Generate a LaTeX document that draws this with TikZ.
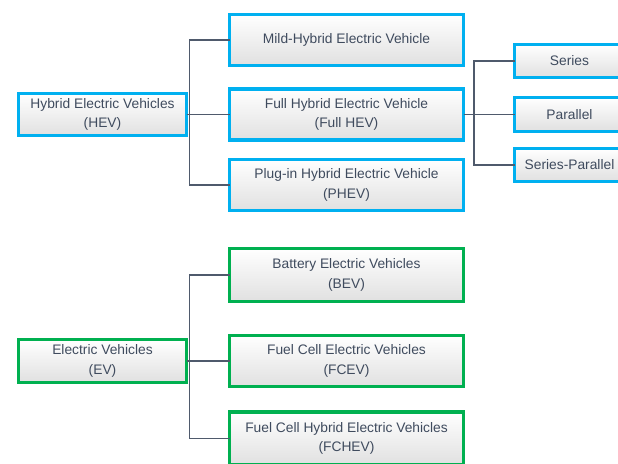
\documentclass[tikz,border=0pt]{standalone}
\usepackage{fontspec}
\setmainfont{Liberation Sans}
\usetikzlibrary{shadows}
\definecolor{hevblue}{HTML}{00B0F0}
\definecolor{evgreen}{HTML}{00B050}
\definecolor{txt}{HTML}{3F4B5E}
\definecolor{conn}{HTML}{4F5A6C}
\tikzset{
  box/.style={rectangle, line width=3.2pt, inner sep=0pt, outer sep=0pt,
    top color=white, middle color=black!3, bottom color=black!12, align=center, text=txt,
    font=\fontsize{13.8}{19.5}\selectfont,
    drop shadow={shadow xshift=1.2pt, shadow yshift=-1.5pt, opacity=0.35, fill=black!60}},
  hbox/.style={box, draw=hevblue},
  ebox/.style={box, draw=evgreen},
  link/.style={draw=conn, line width=1.3pt}
}
\begin{document}
\begin{tikzpicture}[x=1pt,y=-1pt]
\useasboundingbox (0,0) rectangle (618,463);
% HEV group
\node[hbox, minimum width=168pt, minimum height=42pt] (hev) at (102.5,114.5) {Hybrid Electric Vehicles\\(HEV)};
\node[hbox, minimum width=234pt, minimum height=51pt] (mild) at (346.5,40) {Mild-Hybrid Electric Vehicle};
\node[hbox, minimum width=234pt, minimum height=51pt] (full) at (346.5,114.5) {Full Hybrid Electric Vehicle\\(Full HEV)};
\node[hbox, minimum width=234pt, minimum height=51pt] (phev) at (346.5,185) {Plug-in Hybrid Electric Vehicle\\(PHEV)};
\node[hbox, minimum width=110pt, minimum height=33pt] (series) at (569.5,61) {Series};
\node[hbox, minimum width=110pt, minimum height=34pt] (parallel) at (569.5,114.5) {Parallel};
\node[hbox, minimum width=110pt, minimum height=33pt] (sp) at (569.5,165) {Series-Parallel};
% EV group
\node[ebox, minimum width=168pt, minimum height=43pt] (ev) at (102.5,361) {Electric Vehicles\\(EV)};
\node[ebox, minimum width=234pt, minimum height=53pt] (bev) at (346.5,275) {Battery Electric Vehicles\\(BEV)};
\node[ebox, minimum width=234pt, minimum height=51pt] (fcev) at (346.5,361) {Fuel Cell Electric Vehicles\\(FCEV)};
\node[ebox, minimum width=234pt, minimum height=53pt] (fchev) at (346.5,438.5) {Fuel Cell Hybrid Electric Vehicles\\(FCHEV)};
% buses
\coordinate (hbus) at (189.5,0);
\coordinate (sbus) at (474,0);
\coordinate (ebus) at (189.5,0);
% connectors
\draw[link] (mild.west) -- (mild.west -| hbus) -- (phev.west -| hbus) -- (phev.west);
\draw[link] (hev.east) -- (full.west);
\draw[link] (series.west) -- (series.west -| sbus) -- (sp.west -| sbus) -- (sp.west);
\draw[link] (full.east) -- (parallel.west);
\draw[link] (bev.west) -- (bev.west -| ebus) -- (fchev.west -| ebus) -- (fchev.west);
\draw[link] (ev.east) -- (fcev.west);
\end{tikzpicture}
\end{document}
